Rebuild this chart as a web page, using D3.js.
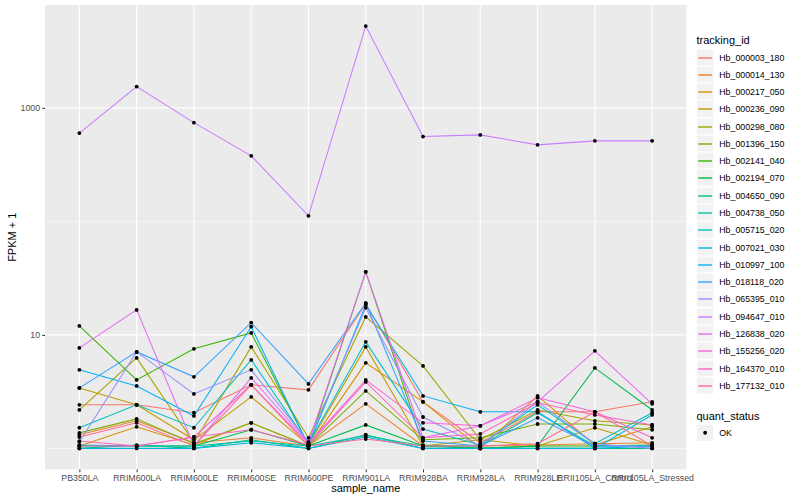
<!DOCTYPE html>
<html>
<head>
<meta charset="utf-8">
<script src="https://cdn.jsdelivr.net/npm/d3@7"></script>
<style>
  body { margin: 0; background: white; }
  text { font-family: "Liberation Sans", Arial, sans-serif; }
</style>
</head>
<body>
<div id="container"></div>
<script>

let w = 800;
let h = 500;

// chart data, FPKM + 1
const samples = ["PB350LA", "RRIM600LA", "RRIM600LE", "RRIM600SE", "RRIM600PE", "RRIM901LA",
  "RRIM928BA", "RRIM928LA", "RRIM928LE", "RRII105LA_Control", "RRII105LA_Stressed"];

const trackingIds = ["Hb_000003_180", "Hb_000014_130", "Hb_000217_050", "Hb_000236_090", "Hb_000298_080",
  "Hb_001396_150", "Hb_002141_040", "Hb_002194_070", "Hb_004650_090", "Hb_004738_050",
  "Hb_005715_020", "Hb_007021_030", "Hb_010997_100", "Hb_018118_020", "Hb_065395_010",
  "Hb_094647_010", "Hb_126838_020", "Hb_155256_020", "Hb_164370_010", "Hb_177132_010"];

// one row per tracking id, one value per sample
const fpkm = [
  [2.42, 2.42, 2.06, 3.63, 3.28, 18.8, 2.57, 1.12, 2.10, 2.10, 2.57],
  [1.32, 1.75, 1.12, 1.24, 1.05, 2.47, 1.05, 1.05, 1.07, 1.10, 1.12],
  [1.05, 1.55, 1.07, 1.68, 1.05, 5.67, 2.57, 1.00, 2.90, 1.07, 1.55],
  [3.41, 2.42, 1.19, 2.84, 1.07, 7.84, 1.05, 1.19, 1.05, 1.52, 1.07],
  [2.18, 6.27, 1.12, 7.84, 1.24, 14.4, 5.33, 1.19, 2.18, 1.75, 1.61],
  [1.37, 1.82, 1.10, 1.68, 1.05, 3.21, 1.19, 1.24, 1.64, 1.64, 1.46],
  [12.0, 4.01, 7.53, 10.4, 1.07, 35.9, 1.07, 1.00, 1.05, 1.05, 1.07],
  [1.05, 1.05, 1.05, 1.46, 1.05, 1.61, 1.05, 1.00, 1.05, 5.12, 2.18],
  [1.00, 1.07, 1.00, 1.19, 1.00, 1.32, 1.00, 1.00, 1.00, 1.00, 1.00],
  [1.07, 1.05, 1.05, 1.16, 1.05, 1.29, 1.05, 1.05, 2.06, 1.05, 1.05],
  [1.52, 2.42, 1.52, 6.02, 1.10, 8.68, 1.48, 1.07, 2.42, 1.10, 2.06],
  [1.00, 1.00, 1.00, 1.12, 1.00, 1.26, 1.00, 1.00, 1.00, 1.00, 1.97],
  [4.92, 3.55, 1.93, 11.8, 1.05, 18.4, 2.90, 2.10, 2.10, 1.00, 1.05],
  [3.41, 7.08, 4.27, 12.8, 3.70, 19.1, 1.16, 1.05, 1.86, 1.05, 1.05],
  [1.14, 7.08, 3.02, 4.92, 1.14, 17.3, 1.89, 1.05, 2.57, 1.10, 1.00],
  [599, 1540, 741, 378, 112, 5250, 559, 578, 472, 512, 512],
  [7.68, 16.6, 1.05, 4.18, 1.12, 35.9, 1.24, 1.58, 2.57, 7.23, 2.47],
  [1.05, 1.05, 1.26, 3.63, 1.10, 4.01, 1.68, 1.58, 2.79, 2.10, 1.24],
  [1.16, 1.05, 1.26, 1.46, 1.07, 3.85, 1.24, 1.34, 2.52, 1.97, 1.61],
  [1.26, 1.68, 1.05, 3.63, 1.05, 1.21, 1.05, 1.05, 1.10, 2.10, 1.05]
];

const yTicks = [10, 1000];
const yMinor = [1, 100];
const quantStatus = ["OK"];

// ggplot hue palette for 20 groups
const colors = ["#F8766D", "#EA8331", "#D89000", "#C09B00", "#A3A500", "#7CAE00", "#39B600", "#00BB4E",
  "#00BF7D", "#00C1A3", "#00BFC4", "#00BAE0", "#00B0F6", "#35A2FF", "#9590FF", "#C77CFF",
  "#E76BF3", "#FA62DB", "#FF62BC", "#FF6C91"];

///////////////////////////

let panel = { left: 45, right: 686.5, top: 5, bottom: 469.5 };

let viz = d3.select("#container").append("svg")
  .attr("width", w)
  .attr("height", h)
  .style("background-color", "white");

let xScale = d3.scalePoint()
  .domain(samples)
  .range([panel.left, panel.right])
  .padding(0.6);

// log range with ggplot's 5% expansion
let allVals = fpkm.flat();
let lo = Math.log10(d3.min(allVals));
let hi = Math.log10(d3.max(allVals));
let pad = (hi - lo) * 0.05;
let yScale = d3.scaleLog()
  .domain([Math.pow(10, lo - pad), Math.pow(10, hi + pad)])
  .range([panel.bottom, panel.top]);

// panel background
viz.append("rect")
  .attr("x", panel.left)
  .attr("y", panel.top)
  .attr("width", panel.right - panel.left)
  .attr("height", panel.bottom - panel.top)
  .attr("fill", "#EBEBEB");

// grid
viz.selectAll(".minor").data(yMinor).enter().append("line")
  .attr("x1", panel.left).attr("x2", panel.right)
  .attr("y1", d => yScale(d)).attr("y2", d => yScale(d))
  .attr("stroke", "white").attr("stroke-width", 0.55);

viz.selectAll(".major").data(yTicks).enter().append("line")
  .attr("x1", panel.left).attr("x2", panel.right)
  .attr("y1", d => yScale(d)).attr("y2", d => yScale(d))
  .attr("stroke", "white").attr("stroke-width", 1.1);

viz.selectAll(".vgrid").data(samples).enter().append("line")
  .attr("x1", d => xScale(d)).attr("x2", d => xScale(d))
  .attr("y1", panel.top).attr("y2", panel.bottom)
  .attr("stroke", "white").attr("stroke-width", 1.1);

// lines
let line = d3.line()
  .x((d, i) => xScale(samples[i]))
  .y(d => yScale(d));

viz.selectAll(".series").data(fpkm).enter().append("path")
  .attr("d", line)
  .attr("fill", "none")
  .attr("stroke", (d, i) => colors[i])
  .attr("stroke-width", 1.05);

// points
fpkm.forEach(function(row){
  viz.append("g").selectAll("circle").data(row).enter().append("circle")
    .attr("cx", (d, i) => xScale(samples[i]))
    .attr("cy", d => yScale(d))
    .attr("r", 1.9)
    .attr("fill", "black");
});

// axes
let xAxis = viz.append("g")
  .attr("transform", "translate(0," + panel.bottom + ")")
  .call(d3.axisBottom(xScale).tickSize(2.75).tickPadding(2.2));

let yAxis = viz.append("g")
  .attr("transform", "translate(" + panel.left + ",0)")
  .call(d3.axisLeft(yScale).tickValues(yTicks).tickFormat(d3.format("d")).tickSize(2.75).tickPadding(2.2));

[xAxis, yAxis].forEach(function(ax){
  ax.select(".domain").remove();
  ax.selectAll(".tick line").attr("stroke", "#333333").attr("stroke-width", 1.05);
  ax.selectAll(".tick text")
    .attr("fill", "#4D4D4D")
    .style("font-size", "8.8px")
    .style("font-family", "'Liberation Sans', Arial, sans-serif");
});

viz.append("text")
  .attr("x", (panel.left + panel.right) / 2)
  .attr("y", 492)
  .attr("text-anchor", "middle")
  .style("font-size", "11px")
  .text("sample_name");

viz.append("text")
  .attr("transform", "translate(16," + ((panel.top + panel.bottom) / 2) + ") rotate(-90)")
  .attr("text-anchor", "middle")
  .style("font-size", "11px")
  .text("FPKM + 1");

// legend: tracking_id
let keySize = 17.28;
let legX = 696.5;
let legTop = 48.5;

viz.append("text")
  .attr("x", legX)
  .attr("y", 44)
  .style("font-size", "11px")
  .text("tracking_id");

let keys = viz.selectAll(".key").data(trackingIds).enter().append("g")
  .attr("transform", (d, i) => "translate(" + legX + "," + Math.round(legTop + i * keySize) + ")");

keys.append("rect")
  .attr("width", keySize).attr("height", keySize)
  .attr("fill", "#F2F2F2").attr("stroke", "white").attr("stroke-width", 1);

keys.append("line")
  .attr("x1", 1.7).attr("x2", keySize - 1.7)
  .attr("y1", 9).attr("y2", 9)
  .attr("stroke", (d, i) => colors[i])
  .attr("stroke-width", 1.4);

keys.append("text")
  .attr("x", keySize + 5.5)
  .attr("y", keySize / 2 + 3.1)
  .style("font-size", "8.8px")
  .text(d => d);

// legend: quant_status
let qsTop = legTop + trackingIds.length * keySize + 30;

viz.append("text")
  .attr("x", legX)
  .attr("y", qsTop - 4.5)
  .style("font-size", "11px")
  .text("quant_status");

let qs = viz.selectAll(".qs").data(quantStatus).enter().append("g")
  .attr("transform", (d, i) => "translate(" + legX + "," + (qsTop + i * keySize) + ")");

qs.append("rect")
  .attr("width", keySize).attr("height", keySize)
  .attr("fill", "#F2F2F2").attr("stroke", "white").attr("stroke-width", 1);

qs.append("circle")
  .attr("cx", keySize / 2).attr("cy", keySize / 2)
  .attr("r", 1.9).attr("fill", "black");

qs.append("text")
  .attr("x", keySize + 5.5)
  .attr("y", keySize / 2 + 3.1)
  .style("font-size", "8.8px")
  .text(d => d);

</script>
</body>
</html>
